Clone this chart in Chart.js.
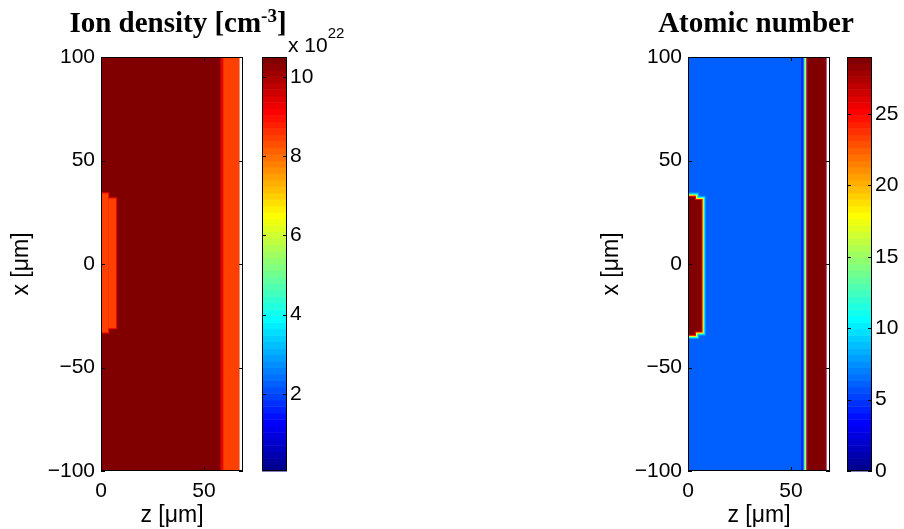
<!DOCTYPE html>
<html>
<head>
<meta charset="utf-8">
<title>Ion density / Atomic number</title>
<script src="https://cdn.jsdelivr.net/npm/chart.js@4/dist/chart.umd.min.js"></script>
<style>
    body { margin: 0; width: 904px; height: 529px; background: #fff; position: relative; overflow: hidden; }
    canvas { position: absolute; top: 0; }
    .title { position: absolute; top: 8px; font: bold 29px/29px "Liberation Serif", "Times New Roman", serif; white-space: nowrap; transform: translateX(-50%); color: #000; }
    .title sup { font-size: 19px; line-height: 0; vertical-align: 10px; }
    .exp { position: absolute; left: 288px; top: 34px; font: 21px/21px "Liberation Sans", Arial, sans-serif; white-space: nowrap; color: #000; }
    .exp span { font-size: 15px; position: relative; top: -14px; }
</style>
</head>
<body>
<canvas id="densityPlot" width="250" height="529" style="left:0px"></canvas>
<canvas id="densityBar" width="80" height="529" style="left:255px"></canvas>
<canvas id="atomicPlot" width="250" height="529" style="left:590px"></canvas>
<canvas id="atomicBar" width="64" height="529" style="left:840px"></canvas>
<div class="title" style="left:178px">Ion density [cm<sup>-3</sup>]</div>
<div class="exp">x 10<span>22</span></div>
<div class="title" style="left:756px">Atomic number</div>

<script>
// axes (z and x in microns)
const zRange = [0, 69];
const xRange = [-100, 100];
const zTicks = [0, 50];
const xTicks = [-100, -50, 0, 50, 100];

// ion density, in units of 1e22 cm^-3
const densityLimits = [0.05, 10.5];
const densityTicks = [2, 4, 6, 8, 10];
// [z0, z1, x0, x1, value], painted in order
const densityRegions = [
    [0, 67.2, -100, 100, 10.5],
    [58.1, 59.4, -100, 100, 9.3],
    [59.4, 67.2, -100, 100, 8.5],
    [0, 4.0, -33.6, 34.6, 9.3],
    [3.5, 7.8, -31.5, 32.2, 9.3],
    [0, 3.5, -33.1, 34.1, 8.5],
    [3.5, 7.3, -31.0, 31.7, 8.5]
];

// atomic number
const atomicLimits = [0, 29];
const atomicTicks = [0, 5, 10, 15, 20, 25];
const atomicRegions = [
    [0, 67.3, -100, 100, 6],
    [55.0, 56.2, -100, 100, 4.2],
    [56.2, 56.9, -100, 100, 11],
    [56.9, 57.5, -100, 100, 18],
    [57.5, 58.0, -100, 100, 25],
    [58.0, 67.0, -100, 100, 29],
    [67.0, 67.3, -100, 100, 25],
    [0, 5.4, -36.2, 34.5, 8],
    [3.4, 8.6, -34.6, 32.9, 8],
    [0, 4.9, -35.7, 34.0, 11],
    [3.4, 8.1, -34.1, 32.4, 11],
    [0, 4.4, -35.2, 33.5, 18],
    [3.4, 7.6, -33.6, 31.9, 18],
    [0, 3.9, -34.7, 33.0, 25],
    [3.4, 7.1, -33.1, 31.4, 25],
    [0, 3.4, -34.2, 32.5, 29],
    [3.4, 6.6, -32.6, 30.9, 29]
];

const tickFont = { family: '"Liberation Sans", Arial, sans-serif', size: 21 };
const labelFont = { family: '"Liberation Sans", Arial, sans-serif', size: 23 };
const minus = v => String(v).replace('-', '\u2212');

// MATLAB jet(64)
function jetRow(i) {
    const k = i + 1;
    const u = j => (j < 1 || j > 47) ? 0 : j <= 16 ? j / 16 : j <= 31 ? 1 : (48 - j) / 16;
    const c = [u(k - 24), u(k - 8), u(k + 8)].map(f => Math.round(f * 255));
    return `rgb(${c[0]},${c[1]},${c[2]})`;
}

function colorFor(v, [lo, hi]) {
    const i = Math.floor((v - lo) / (hi - lo) * 64);
    return jetRow(Math.min(63, Math.max(0, i)));
}

function heatmap(regions, limits) {
    return {
        id: 'heatmap',
        beforeDatasetsDraw(chart) {
            const { ctx, chartArea: a, scales: { x, y } } = chart;
            ctx.save();
            ctx.beginPath();
            ctx.rect(a.left, a.top, a.right - a.left, a.bottom - a.top);
            ctx.clip();
            regions.forEach(([z0, z1, x0, x1, v]) => {
                const left = x.getPixelForValue(z0), right = x.getPixelForValue(z1);
                const top = y.getPixelForValue(x1), bottom = y.getPixelForValue(x0);
                ctx.fillStyle = colorFor(v, limits);
                ctx.fillRect(left, top, right - left, bottom - top);
            });
            ctx.restore();
        }
    };
}

function colorbarFill(limits) {
    return {
        id: 'colorbarFill',
        beforeDatasetsDraw(chart) {
            const { ctx, chartArea: a, scales: { y } } = chart;
            const [lo, hi] = limits;
            for (let i = 0; i < 64; i++) {
                const p0 = y.getPixelForValue(lo + (hi - lo) * i / 64);
                const p1 = y.getPixelForValue(lo + (hi - lo) * (i + 1) / 64);
                ctx.fillStyle = jetRow(i);
                ctx.fillRect(a.left, p1, a.right - a.left, p0 - p1 + 0.5);
            }
        }
    };
}

// box with inward ticks on every side, like MATLAB axes
function frame(withX) {
    return {
        id: 'frame',
        afterDraw(chart) {
            const { ctx, chartArea: a, scales } = chart;
            const len = 4;
            ctx.save();
            ctx.strokeStyle = '#000';
            ctx.lineWidth = 1;
            ctx.beginPath();
            if (withX) {
                scales.x.ticks.forEach(t => {
                    const p = Math.round(scales.x.getPixelForValue(t.value)) + 0.5;
                    ctx.moveTo(p, a.bottom); ctx.lineTo(p, a.bottom - len);
                    ctx.moveTo(p, a.top); ctx.lineTo(p, a.top + len);
                });
            }
            scales.y.ticks.forEach(t => {
                const p = Math.round(scales.y.getPixelForValue(t.value)) + 0.5;
                ctx.moveTo(a.left, p); ctx.lineTo(a.left + len, p);
                ctx.moveTo(a.right, p); ctx.lineTo(a.right - len, p);
            });
            ctx.stroke();
            ctx.strokeRect(a.left + 0.5, a.top + 0.5, a.right - a.left - 1, a.bottom - a.top - 1);
            ctx.restore();
        }
    };
}

function plotChart(id, regions, limits, yWidth, padRight) {
    return new Chart(document.getElementById(id), {
        type: 'scatter',
        data: { datasets: [] },
        options: {
            responsive: false,
            animation: false,
            layout: { padding: { top: 57, right: padRight, left: 0, bottom: 0 } },
            plugins: { legend: { display: false }, tooltip: { enabled: false } },
            scales: {
                x: {
                    type: 'linear', min: zRange[0], max: zRange[1],
                    grid: { display: false, drawTicks: false }, border: { display: false },
                    afterBuildTicks: s => { s.ticks = zTicks.map(v => ({ value: v })); },
                    afterFit: s => { s.height = 58; },
                    ticks: { color: '#000', font: tickFont, padding: 8, maxRotation: 0, autoSkip: false },
                    title: { display: true, text: 'z [\u03bcm]', color: '#000', font: labelFont, padding: 0 }
                },
                y: {
                    type: 'linear', min: xRange[0], max: xRange[1],
                    grid: { display: false, drawTicks: false }, border: { display: false },
                    afterBuildTicks: s => { s.ticks = xTicks.map(v => ({ value: v })); },
                    afterFit: s => { s.width = yWidth; },
                    ticks: { color: '#000', font: tickFont, padding: 6, autoSkip: false, callback: minus },
                    title: { display: true, text: 'x [\u03bcm]', color: '#000', font: labelFont, padding: { top: 8, bottom: 0 } }
                }
            }
        },
        plugins: [heatmap(regions, limits), frame(true)]
    });
}

function colorbarChart(id, limits, ticks, yWidth) {
    return new Chart(document.getElementById(id), {
        type: 'scatter',
        data: { datasets: [] },
        options: {
            responsive: false,
            animation: false,
            layout: { padding: { top: 57, right: 0, left: 7, bottom: 58 } },
            plugins: { legend: { display: false }, tooltip: { enabled: false } },
            scales: {
                x: { display: false, min: 0, max: 1 },
                y: {
                    type: 'linear', position: 'right', min: limits[0], max: limits[1],
                    grid: { display: false, drawTicks: false }, border: { display: false },
                    afterBuildTicks: s => { s.ticks = ticks.map(v => ({ value: v })); },
                    afterFit: s => { s.width = yWidth; },
                    ticks: { color: '#000', font: tickFont, padding: 3, autoSkip: false }
                }
            }
        },
        plugins: [colorbarFill(limits), frame(false)]
    });
}

plotChart('densityPlot', densityRegions, densityLimits, 101, 7);
colorbarChart('densityBar', densityLimits, densityTicks, 48);
plotChart('atomicPlot', atomicRegions, atomicLimits, 98, 10);
colorbarChart('atomicBar', atomicLimits, atomicTicks, 32);
</script>
</body>
</html>
